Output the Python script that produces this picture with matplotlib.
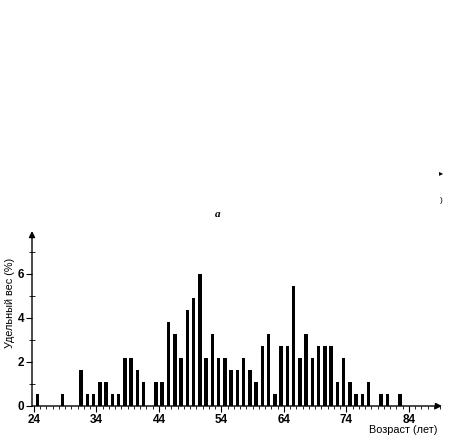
import matplotlib
matplotlib.use("Agg")
import matplotlib.pyplot as plt
from matplotlib.ticker import MultipleLocator, FixedLocator

# Data: age (years) and share (%)
ages = [24, 28, 31, 32, 33, 34, 35, 36, 37, 38, 39, 40, 41, 43, 44, 45, 46, 47,
        48, 49, 50, 51, 52, 53, 54, 55, 56, 57, 58, 59, 60, 61, 62, 63, 64, 65,
        66, 67, 68, 69, 70, 71, 72, 73, 74, 75, 76, 77, 79, 80, 82]
shares = [0.54, 0.54, 1.63, 0.54, 0.54, 1.09, 1.09, 0.54, 0.54, 2.17, 2.17, 1.63,
          1.09, 1.09, 1.09, 3.80, 3.26, 2.17, 4.35, 4.89, 5.98, 2.17, 3.26, 2.17,
          2.17, 1.63, 1.63, 2.17, 1.63, 1.09, 2.72, 3.26, 0.54, 2.72, 2.72, 5.43,
          2.17, 3.26, 2.17, 2.72, 2.72, 2.72, 1.09, 2.17, 1.09, 0.54, 0.54, 1.09,
          0.54, 0.54, 0.54]
x_ticks = [24, 34, 44, 54, 64, 74, 84]
y_ticks = [0, 2, 4, 6]
y_label = "Удельный вес (%)"
x_label = "Возраст (лет)"
panel_label = "а"

W, H = 451, 441
fig = plt.figure(figsize=(W / 100, H / 100), dpi=100)
plt.rcParams['font.family'] = ['Liberation Sans', 'DejaVu Sans']

ax = fig.add_axes([32 / W, 35 / H, (442 - 32) / W, (406 - 231) / H])
ax.bar([a + 0.55 for a in ages], shares, width=0.58, color='black', linewidth=0)
ax.set_xlim(23.7, 89.3)
ax.set_ylim(0, 7.95)

for s in ['top', 'right', 'left', 'bottom']:
    ax.spines[s].set_visible(False)
ax.patch.set_visible(False)

# axis arrows
ax.annotate('', xy=(1, 0), xytext=(0, 0), xycoords='axes fraction',
            arrowprops=dict(arrowstyle='-|>', color='black', lw=1.0,
                            mutation_scale=9, shrinkA=0, shrinkB=0))
ax.annotate('', xy=(0, 1), xytext=(0, 0), xycoords='axes fraction',
            arrowprops=dict(arrowstyle='-|>', color='black', lw=1.0,
                            mutation_scale=9, shrinkA=0, shrinkB=0))

ax.xaxis.set_major_locator(FixedLocator(x_ticks))
ax.xaxis.set_minor_locator(MultipleLocator(1))
ax.yaxis.set_major_locator(FixedLocator(y_ticks))
ax.yaxis.set_minor_locator(FixedLocator([1, 3, 5, 7]))
ax.tick_params(axis='x', which='major', direction='out', length=4, width=0.8,
               labelsize=8.5, pad=1.5)
ax.tick_params(axis='x', which='minor', direction='out', length=2, width=0.6)
ax.tick_params(axis='y', which='major', direction='out', length=4, width=0.8,
               labelsize=8.5, pad=1.5)
ax.tick_params(axis='y', which='minor', direction='inout', length=4, width=0.6)
for lab in ax.get_xticklabels() + ax.get_yticklabels():
    lab.set_fontweight('bold')

fig.text(10 / W, 1 - 303 / H, y_label, rotation=90, ha='center', va='center',
         fontsize=7.8)
fig.text(403 / W, 1 - 430 / H, x_label, ha='center', va='center', fontsize=7.8)
fig.text(218 / W, 1 - 215 / H, panel_label, ha='center', va='center',
         fontsize=8, fontweight='bold', family=['Liberation Serif', 'DejaVu Serif'],
         style='italic')
fig.text(441 / W, 1 - 174 / H, '\u25B8', ha='center', va='center', fontsize=6)
fig.text(441 / W, 1 - 200 / H, ')', ha='center', va='center', fontsize=6)

fig.savefig('out.png', dpi=100)
